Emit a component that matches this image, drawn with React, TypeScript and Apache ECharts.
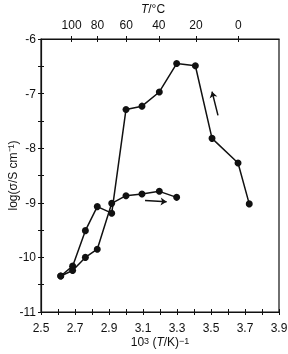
import React, { useEffect, useRef } from 'react';
import * as echarts from 'echarts';

// Run 1 (upper branch)
const run1X = [2.616, 2.686, 2.761, 2.831, 2.916, 3.0, 3.094, 3.196, 3.298, 3.408, 3.506, 3.659, 3.725];
const run1Y = [-10.34, -10.16, -9.51, -9.07, -9.19, -7.29, -7.23, -6.97, -6.45, -6.49, -7.82, -8.27, -9.02];
// Run 2 (lower branch)
const run2X = [2.616, 2.686, 2.761, 2.831, 2.916, 3.0, 3.094, 3.196, 3.298];
const run2Y = [-10.34, -10.24, -10.0, -9.85, -9.01, -8.87, -8.84, -8.79, -8.9];
// Top axis temperatures (°C)
const topTempsC = [100, 80, 60, 40, 20, 0];
// Direction arrows (data coordinates: tail, head)
const arrowUp = [[3.541, -7.4], [3.506, -6.965]];
const arrowRight = [[3.112, -8.96], [3.239, -8.98]];

const FONT = '"Liberation Sans", Arial, sans-serif';
const INK = '#111';

export default function App() {
  const ref = useRef<HTMLDivElement>(null);
  useEffect(() => {
    if (!ref.current) return;
    const chart = echarts.init(ref.current, null, { renderer: 'svg' });
    const topVals = topTempsC.map((t) => 1000 / (t + 273.15));
    const tickStyle = { color: INK, width: 1 };
    const lineStyle = { color: INK, width: 1.2 };
    const baseX = { type: 'value', min: 2.5, max: 3.9, interval: 0.1, splitLine: { show: false } };
    const baseY = { type: 'value', min: -11, max: -6, interval: 0.5, splitLine: { show: false } };
    chart.setOption({
      animation: false,
      textStyle: { fontFamily: FONT, color: INK },
      grid: {
        left: 41,
        right: 9,
        top: 39,
        bottom: 42,
        show: true,
        borderColor: INK,
        borderWidth: 1.2,
        containLabel: false,
        outerBoundsMode: 'none',
      },
      xAxis: [
        {
          ...baseX,
          position: 'bottom',
          axisLine: { show: true, lineStyle },
          axisTick: { show: true, length: 3, lineStyle: tickStyle },
          axisLabel: {
            margin: 10,
            fontSize: 12,
            color: INK,
            fontFamily: FONT,
            formatter: (v: number) => (Math.round(v * 10) % 2 === 1 ? v.toFixed(1) : ''),
          },
          name: '{a|10}{s|3}{a| (}{i|T}{a|/K)}{s|\u22121}',
          nameLocation: 'middle',
          nameGap: 24,
          nameMoveOverlap: false,
          nameTextStyle: {
            color: INK,
            fontFamily: FONT,
            rich: {
              a: { fontSize: 12, fontFamily: FONT, color: INK },
              i: { fontSize: 12, fontFamily: FONT, color: INK, fontStyle: 'italic' },
              s: { fontSize: 9, fontFamily: FONT, color: INK, verticalAlign: 'top' },
            },
          },
        },
        {
          ...baseX,
          position: 'bottom',
          axisLine: { show: false },
          axisTick: { show: true, inside: true, length: 3, lineStyle: tickStyle },
          axisLabel: { show: false },
        },
        {
          type: 'value',
          min: 2.5,
          max: 3.9,
          position: 'top',
          splitLine: { show: false },
          axisLine: { show: true, lineStyle },
          axisTick: { show: true, length: 3, customValues: topVals, lineStyle: tickStyle },
          axisLabel: {
            margin: 8,
            fontSize: 12,
            color: INK,
            fontFamily: FONT,
            customValues: topVals,
            formatter: (v: number) => String(Math.round(1000 / v - 273.15)),
          },
          name: '{i|T}{a|/°C}',
          nameLocation: 'middle',
          nameGap: 24,
          nameMoveOverlap: false,
          nameTextStyle: {
            padding: [0, 14, 0, 0],
            rich: {
              a: { fontSize: 12, fontFamily: FONT, color: INK },
              i: { fontSize: 12, fontFamily: FONT, color: INK, fontStyle: 'italic' },
            },
          },
        },
        {
          type: 'value',
          min: 2.5,
          max: 3.9,
          position: 'top',
          splitLine: { show: false },
          axisLine: { show: false },
          axisTick: { show: true, inside: true, length: 3, customValues: topVals, lineStyle: tickStyle },
          axisLabel: { show: false, customValues: topVals },
        },
      ],
      yAxis: [
        {
          ...baseY,
          position: 'left',
          axisLine: { show: true, lineStyle },
          axisTick: { show: true, length: 3, lineStyle: tickStyle },
          axisLabel: {
            margin: 5,
            fontSize: 12,
            color: INK,
            fontFamily: FONT,
            formatter: (v: number) => (Number.isInteger(v) ? String(v) : ''),
          },
          name: 'log(\u03c3/S cm\u207b\u00b9)',
          nameLocation: 'middle',
          nameGap: 22,
          nameMoveOverlap: false,
          nameTextStyle: { fontSize: 12, fontFamily: FONT, color: INK },
        },
        {
          ...baseY,
          position: 'left',
          axisLine: { show: false },
          axisTick: { show: true, inside: true, length: 3, lineStyle: tickStyle },
          axisLabel: { show: false },
        },
      ],
      series: [
        {
          type: 'line',
          xAxisIndex: 0,
          yAxisIndex: 0,
          data: run1X.map((x, i) => [x, run1Y[i]]),
          symbol: 'circle',
          symbolSize: 7,
          itemStyle: { color: INK },
          lineStyle: { color: INK, width: 1.5 },
        },
        {
          type: 'line',
          xAxisIndex: 0,
          yAxisIndex: 0,
          data: run2X.map((x, i) => [x, run2Y[i]]),
          symbol: 'circle',
          symbolSize: 7,
          itemStyle: { color: INK },
          lineStyle: { color: INK, width: 1.5 },
        },
        {
          type: 'lines',
          coordinateSystem: 'cartesian2d',
          xAxisIndex: 0,
          yAxisIndex: 0,
          symbol: ['none', 'arrow'],
          symbolSize: 6,
          lineStyle: { color: INK, width: 1.5, opacity: 1 },
          data: [{ coords: arrowUp }, { coords: arrowRight }],
        },
      ],
    });
    return () => chart.dispose();
  }, []);
  return <div ref={ref} style={{ position: 'fixed', left: 0, top: 0, width: 288, height: 354 }} />;
}
